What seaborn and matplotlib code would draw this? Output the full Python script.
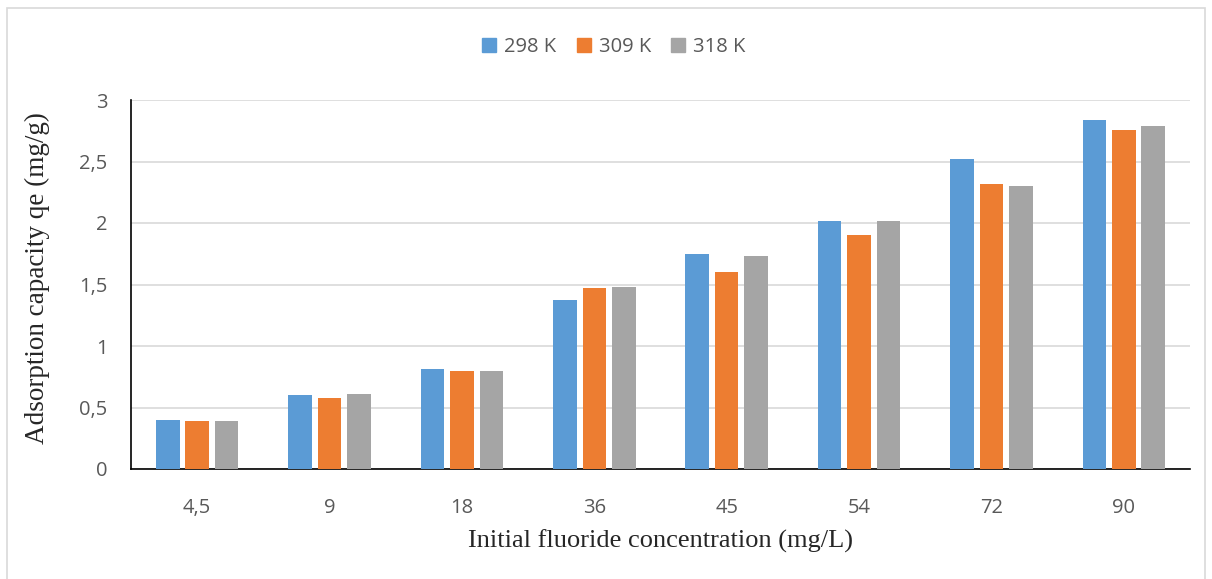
import matplotlib
matplotlib.use("Agg")
import matplotlib.pyplot as plt
import matplotlib.patches as mpatches
import seaborn as sns
import pandas as pd

# Initial fluoride concentrations (mg/L) and adsorption capacities qe (mg/g)
concentrations = ["4,5", "9", "18", "36", "45", "54", "72", "90"]
temperatures = ["298 K", "309 K", "318 K"]
qe_298 = [0.40, 0.60, 0.81, 1.37, 1.75, 2.02, 2.52, 2.84]
qe_309 = [0.39, 0.58, 0.80, 1.47, 1.60, 1.90, 2.32, 2.76]
qe_318 = [0.39, 0.61, 0.80, 1.48, 1.73, 2.02, 2.30, 2.79]
y_ticks = [0, 0.5, 1, 1.5, 2, 2.5, 3]
y_tick_labels = ["0", "0,5", "1", "1,5", "2", "2,5", "3"]

colors = ["#5B9BD5", "#ED7D31", "#A5A5A5"]

df = pd.DataFrame({
    "concentration": concentrations * 3,
    "temperature": [t for t in temperatures for _ in concentrations],
    "qe": qe_298 + qe_309 + qe_318,
})

sns.set_style("white")
plt.rcParams["font.family"] = ["Open Sans", "DejaVu Sans"]

fig = plt.figure(figsize=(12.12, 5.79), dpi=100)
ax = fig.add_axes([131 / 1212, 1 - 469 / 579, (1190 - 131) / 1212, (469 - 100) / 579])

sns.barplot(
    data=df, x="concentration", y="qe", hue="temperature",
    order=concentrations, hue_order=temperatures, palette=colors,
    width=0.667, gap=0.2, saturation=1, errorbar=None,
    edgecolor="none", ax=ax, legend=False, zorder=3,
)

ax.set_ylim(0, 3)
ax.set_xlim(-0.5, len(concentrations) - 0.5)
ax.set_yticks(y_ticks)
ax.set_yticklabels(y_tick_labels)
ax.yaxis.grid(True, color="#d9d9d9", linewidth=1.2, zorder=0)
ax.set_axisbelow(True)
for side in ("top", "right"):
    ax.spines[side].set_visible(False)
for side in ("left", "bottom"):
    ax.spines[side].set_color("black")
    ax.spines[side].set_linewidth(1.2)
ax.tick_params(axis="both", length=0, labelsize=14.5, labelcolor="#595959")
ax.tick_params(axis="x", pad=21)
ax.tick_params(axis="y", pad=17)

serif = ["Liberation Serif", "DejaVu Serif"]
ax.set_xlabel("Initial fluoride concentration (mg/L)", family=serif,
              fontsize=19, color="#262626", va="center")
ax.xaxis.set_label_coords(0.5, (469 - 541) / 369)
ax.set_ylabel("Adsorption capacity qe (mg/g)", family=serif,
              fontsize=19.5, color="#262626", va="center")
ax.yaxis.set_label_coords((37 - 131) / 1059, (469 - 278) / 369)

handles = [mpatches.Patch(color=c, label=t) for c, t in zip(colors, temperatures)]
fig.legend(handles=handles, loc="center", bbox_to_anchor=(614 / 1212, 1 - 47 / 579),
           ncol=3, frameon=False, fontsize=14.5, labelcolor="#595959",
           handlelength=0.7, handleheight=0.7, handletextpad=0.4, columnspacing=1.0)

# light frame around the whole chart
fig.patches.append(mpatches.Rectangle((7 / 1212, -0.01), (1205 - 7) / 1212, 1 - 8 / 579 + 0.01,
                                      transform=fig.transFigure, fill=False,
                                      edgecolor="#d9d9d9", linewidth=1.2))

fig.savefig("out.png", dpi=100)
